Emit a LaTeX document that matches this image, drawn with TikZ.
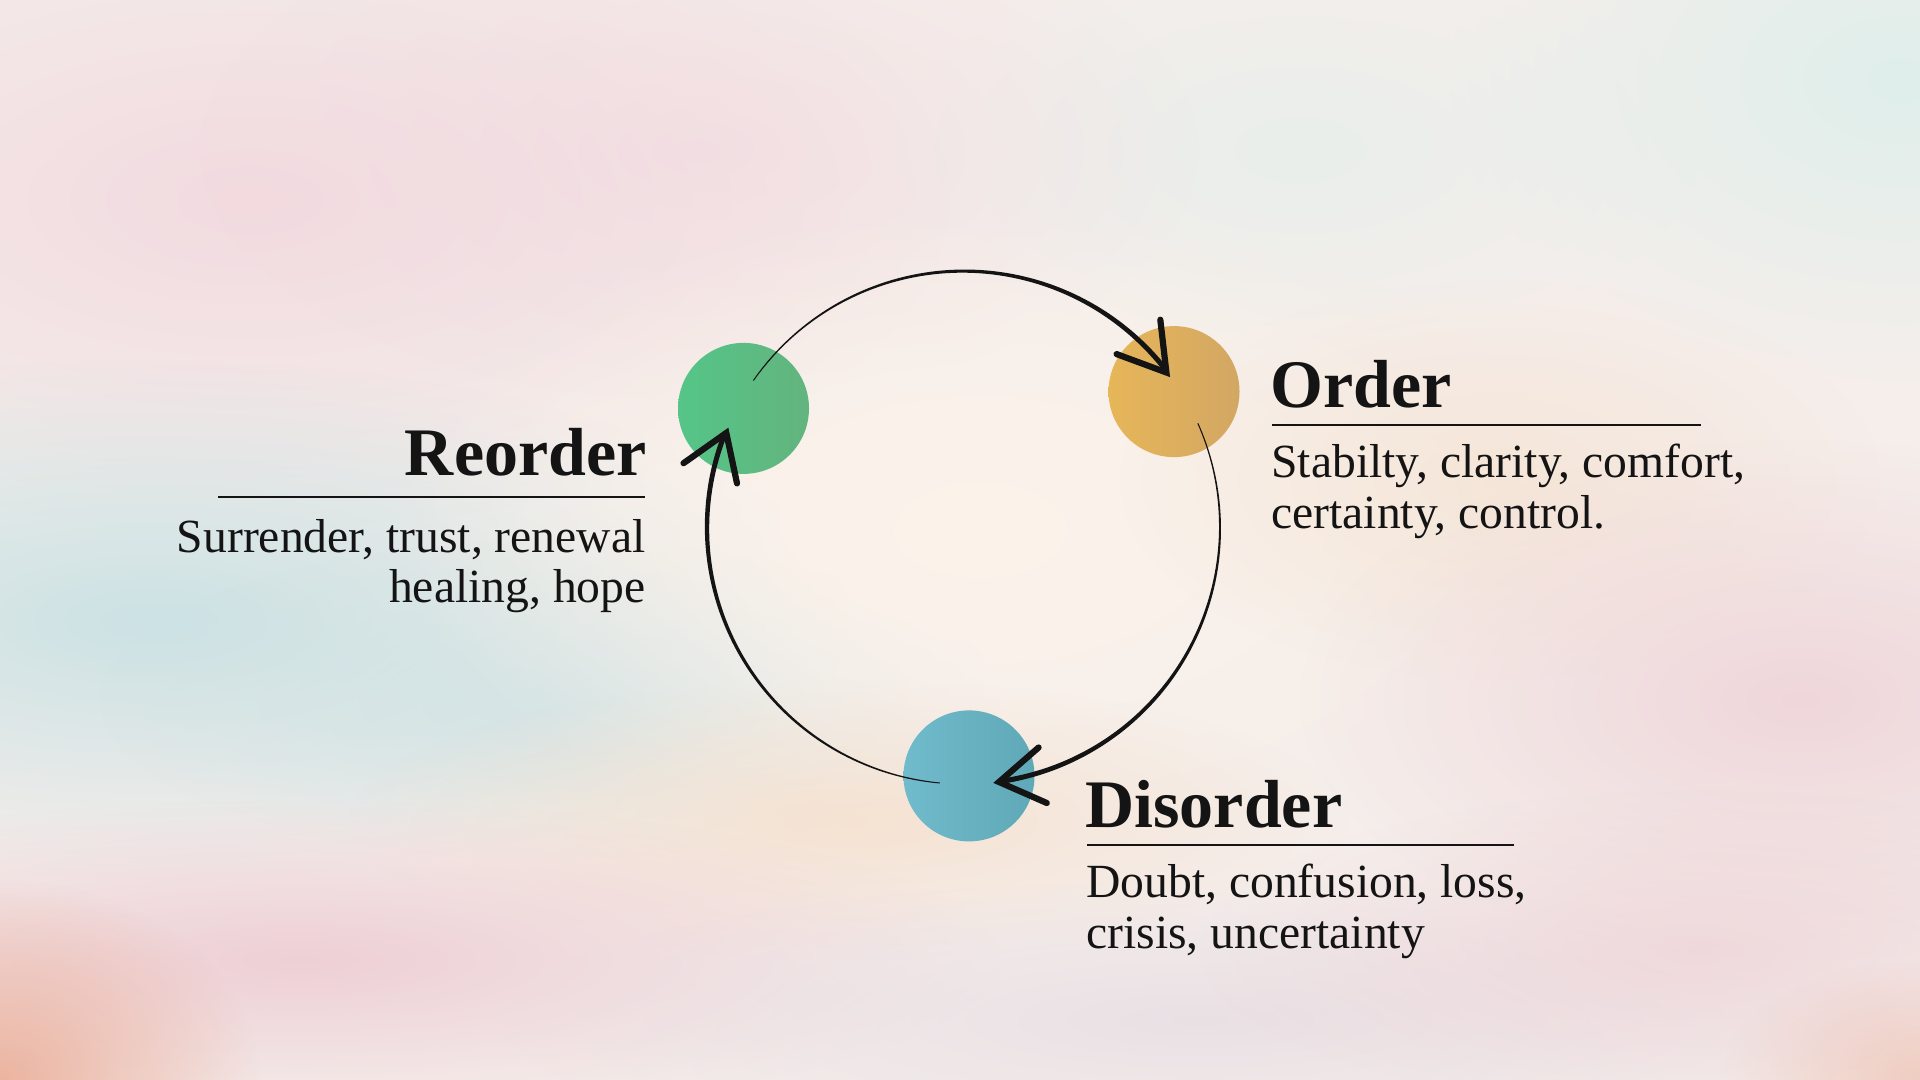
\documentclass[tikz,border=0pt]{standalone}
\usepackage{fontspec}
\setmainfont{Liberation Serif}
\usetikzlibrary{fadings}
\tikzfading[name=softblob, inner color=transparent!0, outer color=transparent!100]
\definecolor{ink}{HTML}{141414}
\definecolor{bgbase}{HTML}{F5EEEB}
\definecolor{bpink}{HTML}{F2D9DF}
\definecolor{bteal}{HTML}{CCE2E4}
\definecolor{bcyan}{HTML}{DDEEEB}
\definecolor{bcream}{HTML}{FCF3EA}
\definecolor{bpeach}{HTML}{F5E0CC}
\definecolor{brose}{HTML}{EDCCD3}
\definecolor{borange}{HTML}{EBAE98}
\definecolor{blav}{HTML}{E6DDE3}
\definecolor{ga}{HTML}{55C588}
\definecolor{gb}{HTML}{63B47E}
\definecolor{oa}{HTML}{E7B659}
\definecolor{ob}{HTML}{D2A763}
\definecolor{ca}{HTML}{70BBCC}
\definecolor{cb}{HTML}{5FA8B7}
\newcommand{\tarc}[2]{%
  \fill[ink] plot[domain=#1:#2, samples=100, variable=\t]
    ({963.5+(256.5+0.5*(1+4.2*(\t-#1)/(#2-#1)))*cos(\t)},
     {527.6-(256.5+0.5*(1+4.2*(\t-#1)/(#2-#1)))*sin(\t)})
   -- plot[domain=#2:#1, samples=100, variable=\t]
    ({963.5+(256.5-0.5*(1+4.2*(\t-#1)/(#2-#1)))*cos(\t)},
     {527.6-(256.5-0.5*(1+4.2*(\t-#1)/(#2-#1)))*sin(\t)}) -- cycle;}
\tikzset{
  blob/.style={fill=#1, path fading=softblob},
  dot/.style={circle, inner sep=0pt, minimum size=65.5pt, draw=none},
  head/.style={inner sep=0pt, text=ink, font=\fontsize{34}{37}\selectfont\bfseries},
  body/.style={inner sep=0pt, text=ink, font=\fontsize{23.8}{26}\selectfont},
  rule/.style={draw=ink, line width=1pt},
  wing/.style={draw=ink, line width=3.1pt, line cap=round, line join=miter},
}
\begin{document}
\begin{tikzpicture}[x=0.5pt,y=-0.5pt]
\useasboundingbox (0,0) rectangle (1920,1080);
\begin{scope}
\clip (0,0) rectangle (1920,1080);
\fill[bgbase] (0,0) rectangle (1920,1080);
% painted background washes
\fill[blob=bpink, opacity=0.9] (250,200) ellipse (700 and 330);
\fill[blob=bpink, opacity=0.6] (700,150) ellipse (500 and 250);
\fill[blob=bcyan, opacity=0.9] (1900,80) ellipse (450 and 300);
\fill[blob=bcyan, opacity=0.5] (1300,150) ellipse (400 and 200);
\fill[blob=bteal, opacity=1] (150,620) ellipse (700 and 260);
\fill[blob=bteal, opacity=0.7] (550,700) ellipse (450 and 160);
\fill[blob=bcream, opacity=1] (980,530) ellipse (600 and 330);
\fill[blob=bpeach, opacity=0.8] (850,820) ellipse (500 and 140);
\fill[blob=bpeach, opacity=0.6] (1500,480) ellipse (380 and 200);
\fill[blob=brose, opacity=0.7] (1800,700) ellipse (500 and 260);
\fill[blob=brose, opacity=0.9] (300,960) ellipse (700 and 160);
\fill[blob=blav, opacity=0.8] (1200,1020) ellipse (700 and 140);
\fill[blob=brose, opacity=0.6] (1700,950) ellipse (500 and 160);
\fill[blob=borange, opacity=0.9] (0,1080) ellipse (260 and 200);
\fill[blob=borange, opacity=0.5] (1920,1080) ellipse (200 and 120);
\end{scope}

% stage dots
\node[dot, left color=ga, right color=gb] (reorderdot) at (743.5,408.4) {};
\node[dot, left color=oa, right color=ob] (orderdot) at (1174,391.6) {};
\node[dot, left color=ca, right color=cb] (disorderdot) at (969,775.9) {};

% cycle arcs (tapered), ring centred at (963.5,527.6)
\coordinate (ring) at (963.5,527.6);
\tarc{145}{37.5}
\tarc{24}{-82}
\tarc{264.7}{158.2}

% arrowheads
\coordinate (tipA) at (1166.4,372.5);
\coordinate (tipAl) at (1160.3,319.7);
\coordinate (tipAr) at (1116.6,354.1);
\draw[wing] (tipAl) -- (tipA) -- (tipAr);
\coordinate (tipB) at (999,782);
\coordinate (tipBl) at (1038.6,747.5);
\coordinate (tipBr) at (1046.8,803);
\draw[wing] (tipBl) -- (tipB) -- (tipBr);
\coordinate (tipC) at (726.3,432.9);
\coordinate (tipCl) at (683.5,463.2);
\coordinate (tipCr) at (737,483.4);
\draw[wing] (tipCl) -- (tipC) -- (tipCr);

% Reorder
\node[head, anchor=base east] (reorder) at (647,475) {Reorder};
\coordinate (reL) at (218,497);
\coordinate (reR) at (645,497);
\draw[rule] (reL) -- (reR);
\node[body, anchor=base east] (reorder1) at (646,552) {Surrender, trust, renewal};
\node[body, anchor=base east] (reorder2) at (646,602) {healing, hope};

% Order
\node[head, anchor=base west] (order) at (1270,407) {Order};
\coordinate (orL) at (1272,425);
\coordinate (orR) at (1701,425);
\draw[rule] (orL) -- (orR);
\node[body, anchor=base west] (order1) at (1271,477) {Stabilty, clarity, comfort,};
\node[body, anchor=base west] (order2) at (1271,528) {certainty, control.};

% Disorder
\node[head, anchor=base west] (disorder) at (1085,827) {Disorder};
\coordinate (diL) at (1087,845);
\coordinate (diR) at (1514,845);
\draw[rule] (diL) -- (diR);
\node[body, anchor=base west] (disorder1) at (1086,897) {Doubt, confusion, loss,};
\node[body, anchor=base west] (disorder2) at (1086,948) {crisis, uncertainty};
\end{tikzpicture}
\end{document}
